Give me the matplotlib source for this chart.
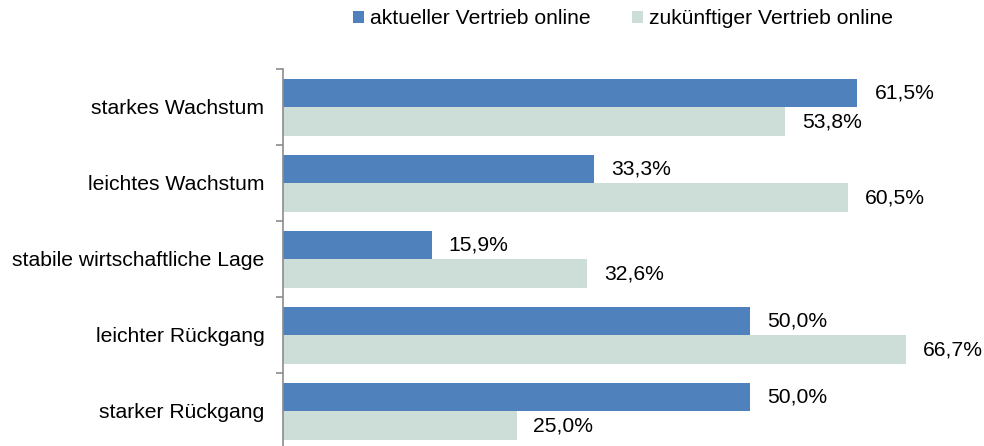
import matplotlib.pyplot as plt
import numpy as np

plt.rcParams['font.family'] = ['Liberation Sans', 'DejaVu Sans']

categories = ["starkes Wachstum", "leichtes Wachstum", "stabile wirtschaftliche Lage",
              "leichter Rückgang", "starker Rückgang"]
aktuell = [61.5, 33.3, 15.9, 50.0, 50.0]
zukunft = [53.8, 60.5, 32.6, 66.7, 25.0]
series_names = ["aktueller Vertrieb online", "zukünftiger Vertrieb online"]

blue = "#4F81BD"
green = "#CDDDD7"
fs = 15.2

W, H = 984, 446
fig = plt.figure(figsize=(W / 100, H / 100), dpi=100)
# plot area in pixels: x 283..970, y 69..449 (from top)
ax = fig.add_axes([283 / W, (H - 449) / H, (970 - 283) / W, 380 / H])

n = len(categories)
y = np.arange(n)
bh = 0.375
ax.barh(y - bh / 2, aktuell, height=bh, color=blue, label=series_names[0])
ax.barh(y + bh / 2, zukunft, height=bh, color=green, label=series_names[1])

ax.set_ylim(n - 0.5, -0.5)
ax.set_xlim(0, (970 - 283) / 9.34)

def fmt(v):
    return f"{v:.1f}%".replace(".", ",")

for i in range(n):
    ax.annotate(fmt(aktuell[i]), (aktuell[i], y[i] - bh / 2), xytext=(17, 0),
                textcoords="offset pixels", va="center", ha="left", fontsize=fs)
    ax.annotate(fmt(zukunft[i]), (zukunft[i], y[i] + bh / 2), xytext=(17, -1),
                textcoords="offset pixels", va="center", ha="left", fontsize=fs)

ax.set_yticks(y)
ax.set_yticklabels(categories, fontsize=fs)
ax.set_yticks(np.arange(n + 1) - 0.5, minor=True)
ax.tick_params(axis="y", which="major", length=0, pad=13.5)
ax.tick_params(axis="y", which="minor", length=5, width=1.2, color="#8C8C8C")
ax.set_xticks([])
for s in ["top", "right", "bottom"]:
    ax.spines[s].set_visible(False)
ax.spines["left"].set_color("#8C8C8C")
ax.spines["left"].set_linewidth(1.2)

fig.legend(loc="center", bbox_to_anchor=(623 / W, 1 - 19 / H), ncol=2, frameon=False,
           fontsize=fs, handlelength=0.52, handleheight=0.52, handletextpad=0.25,
           columnspacing=2.0, borderpad=0, borderaxespad=0)

fig.savefig("out.png", dpi=100)
